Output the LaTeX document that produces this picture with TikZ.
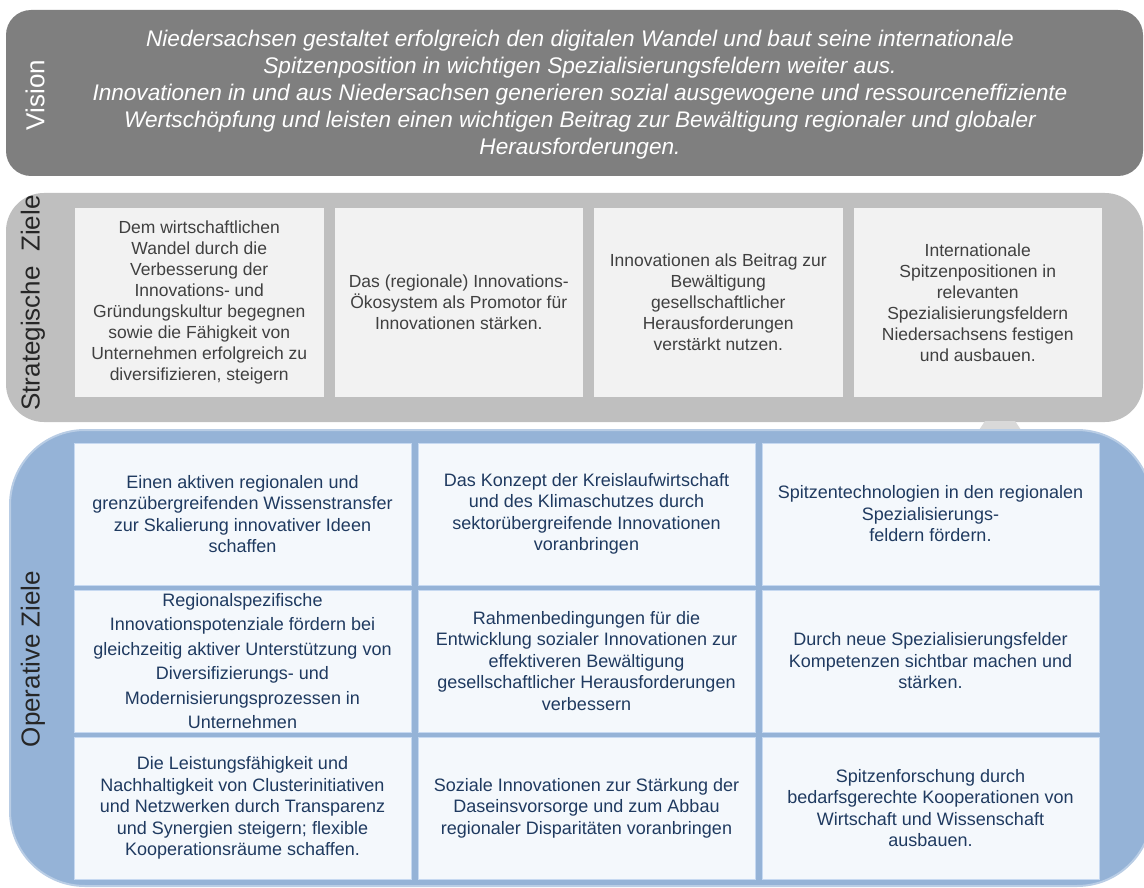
\documentclass[tikz,border=0pt]{standalone}
\usepackage{fontspec}
\setmainfont{Liberation Sans}
\usetikzlibrary{positioning}
\definecolor{visgray}{HTML}{7F7F7F}
\definecolor{stratgray}{HTML}{BFBFBF}
\definecolor{nubgray}{HTML}{D9D9D9}
\definecolor{boxgray}{HTML}{F2F2F2}
\definecolor{stratext}{HTML}{404040}
\definecolor{opblue}{HTML}{95B3D7}
\definecolor{opedge}{HTML}{B9CDE5}
\definecolor{boxblue}{HTML}{F4F8FC}
\definecolor{boxline}{HTML}{C6D9F1}
\definecolor{opnavy}{HTML}{1F3A60}
\definecolor{labelblack}{HTML}{262626}

\begin{document}
\begin{tikzpicture}[x=1pt,y=1pt,yscale=-1,xscale=1,
  sbox/.style={fill=boxgray,text=stratext,align=center,inner sep=0pt,
    minimum width=248.5pt,minimum height=189pt,font=\fontsize{17.5}{21}\selectfont},
  obox/.style={fill=boxblue,draw=boxline,line width=0.8pt,text=opnavy,align=center,inner sep=0pt,
    minimum width=337pt,minimum height=142pt,font=\fontsize{18}{21.5}\selectfont},
  bandlabel/.style={rotate=90,inner sep=0pt,font=\fontsize{26}{30}\selectfont}]
\useasboundingbox (0,0) rectangle (1144,888);
\clip (0,0) rectangle (1144,888);

%Rounded Rect (vision)
\fill [visgray, rounded corners=25] (6,10) rectangle (1143,176);
%Rounded Rect (strategic)
\fill [stratgray, rounded corners=38] (6,193) rectangle (1143,422);
%Shape: Trapezoid
\fill [nubgray] (985,421) -- (1015,421) -- (1021,430) -- (979,430) -- cycle;
%Rounded Rect (operative)
\filldraw [fill=opblue, draw=opedge, line width=2pt, rounded corners=75] (10,430) rectangle (1152,886);

% Text Node
\node (vislabel) [bandlabel, text=white] at (35,95) {Vision};
% Text Node
\node (vistext) [text=white, align=center, inner sep=0pt, font=\itshape\fontsize{22.6}{27}\selectfont] at (580,95)
  {Niedersachsen gestaltet erfolgreich den digitalen Wandel und baut seine internationale\\
   Spitzenposition in wichtigen Spezialisierungsfeldern weiter aus.\\
   Innovationen in und aus Niedersachsen generieren sozial ausgewogene und ressourceneffiziente\\
   Wertschöpfung und leisten einen wichtigen Beitrag zur Bewältigung regionaler und globaler\\
   Herausforderungen.};

% Text Node
\node (stratlabel) [bandlabel, text=labelblack] at (33,303) {Strategische\ \ Ziele};
% Strategic boxes
\node (s1) [sbox] at (199.25,302.5) {Dem wirtschaftlichen\\Wandel durch die\\Verbesserung der\\Innovations- und\\Gründungskultur begegnen\\sowie die Fähigkeit von\\Unternehmen erfolgreich zu\\diversifizieren, steigern};
\node (s2) [sbox] at (458.75,302.5) {Das (regionale) Innovations-\\Ökosystem als Promotor für\\Innovationen stärken.};
\node (s3) [sbox] at (718.25,302.5) {Innovationen als Beitrag zur\\Bewältigung\\gesellschaftlicher\\Herausforderungen\\verstärkt nutzen.};
\node (s4) [sbox] at (977.75,302.5) {Internationale\\Spitzenpositionen in\\relevanten\\Spezialisierungsfeldern\\Niedersachsens festigen\\und ausbauen.};

% Text Node
\node (oplabel) [bandlabel, text=labelblack] at (33,659) {Operative Ziele};
% Operative boxes, row 1
\node (o11) [obox] at (242.5,514) {Einen aktiven regionalen und\\grenzübergreifenden Wissenstransfer\\zur Skalierung innovativer Ideen\\schaffen};
\node (o12) [obox] at (586.5,514) {Das Konzept der Kreislaufwirtschaft\\und des Klimaschutzes durch\\sektorübergreifende Innovationen\\voranbringen};
\node (o13) [obox] at (930.5,514) {Spitzentechnologien in den regionalen\\Spezialisierungs-\\feldern fördern.};
% Operative boxes, row 2
\node (o21) [obox, font=\fontsize{18}{24.5}\selectfont] at (242.5,661) {Regionalspezifische\\Innovationspotenziale fördern bei\\gleichzeitig aktiver Unterstützung von\\Diversifizierungs- und\\Modernisierungsprozessen in\\Unternehmen};
\node (o22) [obox] at (586.5,661) {Rahmenbedingungen für die\\Entwicklung sozialer Innovationen zur\\effektiveren Bewältigung\\gesellschaftlicher Herausforderungen\\verbessern};
\node (o23) [obox] at (930.5,661) {Durch neue Spezialisierungsfelder\\Kompetenzen sichtbar machen und\\stärken.};
% Operative boxes, row 3
\node (o31) [obox] at (242.5,808) {Die Leistungsfähigkeit und\\Nachhaltigkeit von Clusterinitiativen\\und Netzwerken durch Transparenz\\und Synergien steigern; flexible\\Kooperationsräume schaffen.};
\node (o32) [obox] at (586.5,808) {Soziale Innovationen zur Stärkung der\\Daseinsvorsorge und zum Abbau\\regionaler Disparitäten voranbringen};
\node (o33) [obox] at (930.5,808) {Spitzenforschung durch\\bedarfsgerechte Kooperationen von\\Wirtschaft und Wissenschaft\\ausbauen.};

\end{tikzpicture}
\end{document}
